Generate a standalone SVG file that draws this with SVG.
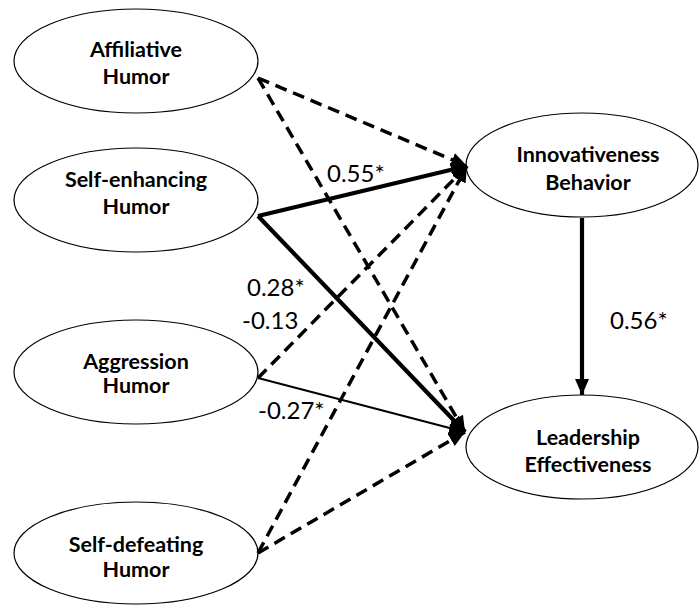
<svg xmlns="http://www.w3.org/2000/svg" width="699" height="605" viewBox="0 0 699 605">
<style>
.node ellipse{fill:#fff;stroke:#000;stroke-width:1.2}
.lbl{font-family:"Lato","Liberation Sans",sans-serif;font-weight:bold;font-size:21.5px;text-anchor:middle;fill:#000}
.num{font-family:"Lato","Liberation Sans",sans-serif;font-size:24px;fill:#000}
.dash{stroke:#000;stroke-width:3.5;stroke-dasharray:12 7;fill:none}
.thick{stroke:#000;stroke-width:4.2;fill:none}
.thin{stroke:#000;stroke-width:2;fill:none}
</style>
<defs>
<marker id="ah" markerUnits="userSpaceOnUse" markerWidth="18" markerHeight="16" refX="16" refY="8" orient="auto">
<path d="M0,1 L16,8 L0,15 Z" fill="#000"/>
</marker>
</defs>
<rect width="699" height="605" fill="#fff"/>
<g id="n-affiliative" class="node"><ellipse cx="136" cy="61" rx="122" ry="52"/><text class="lbl" x="136" y="57">Affiliative</text><text class="lbl" x="136" y="84">Humor</text></g>
<g id="n-selfenhancing" class="node"><ellipse cx="136" cy="200" rx="122" ry="52"/><text class="lbl" x="136" y="187">Self-enhancing</text><text class="lbl" x="136" y="214">Humor</text></g>
<g id="n-aggression" class="node"><ellipse cx="136" cy="372" rx="122" ry="52"/><text class="lbl" x="136" y="369">Aggression</text><text class="lbl" x="136" y="393">Humor</text></g>
<g id="n-selfdefeating" class="node"><ellipse cx="136" cy="553" rx="122" ry="51"/><text class="lbl" x="136" y="552">Self-defeating</text><text class="lbl" x="136" y="577">Humor</text></g>
<g id="n-innov" class="node"><ellipse cx="582" cy="165" rx="116" ry="52"/><text class="lbl" x="588" y="162">Innovativeness</text><text class="lbl" x="588" y="190">Behavior</text></g>
<g id="n-lead" class="node"><ellipse cx="582" cy="447" rx="116" ry="52"/><text class="lbl" x="588" y="445">Leadership</text><text class="lbl" x="588" y="472">Effectiveness</text></g>
<g id="connectors">
<line class="dash" x1="258" y1="78" x2="467" y2="166" marker-end="url(#ah)"/>
<line class="dash" x1="258" y1="78" x2="465" y2="432" marker-end="url(#ah)"/>
<line class="thick" x1="258" y1="216" x2="467" y2="166" marker-end="url(#ah)"/>
<line class="thick" x1="258" y1="216" x2="465" y2="432" marker-end="url(#ah)"/>
<line class="dash" x1="258" y1="378" x2="467" y2="166" marker-end="url(#ah)"/>
<line class="thin" x1="258" y1="378" x2="465" y2="432" marker-end="url(#ah)"/>
<line class="dash" x1="258" y1="553" x2="467" y2="166" marker-end="url(#ah)"/>
<line class="dash" x1="258" y1="553" x2="465" y2="432" marker-end="url(#ah)"/>
<line class="thick" x1="582" y1="218" x2="582" y2="395" marker-end="url(#ah)"/>
</g>
<g id="labels">
<text class="num" x="327" y="182">0.55*</text>
<text class="num" x="247" y="296">0.28*</text>
<text class="num" x="242" y="329">-0.13</text>
<text class="num" x="258" y="419">-0.27*</text>
<text class="num" x="610" y="329">0.56*</text>
</g>
</svg>
